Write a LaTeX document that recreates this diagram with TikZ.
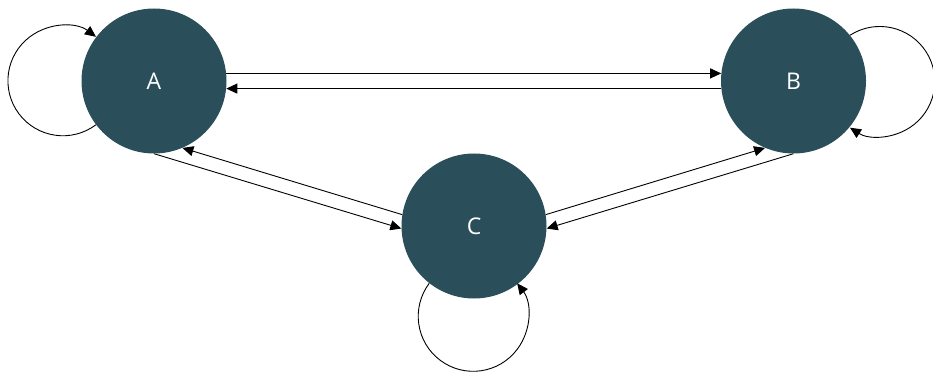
\documentclass[tikz,border=0pt]{standalone}
\usepackage{fontspec}
\setmainfont{Open Sans}
\usetikzlibrary{arrows.meta}
\definecolor{nodefill}{HTML}{2A4F5B}
\begin{document}
\begin{tikzpicture}[x=1pt,y=1pt,
  state/.style={circle,fill=nodefill,draw=none,minimum size=145pt,inner sep=0pt,text=white,font=\fontsize{23}{27}\selectfont},
  conn/.style={line width=0.9pt,-{Triangle[length=11pt,width=10pt]}}]
\useasboundingbox (0,0) rectangle (933,372);
\node[state] (A) at (154,291) {A};
\node[state] (B) at (793.5,291) {B};
\node[state] (C) at (474,146) {C};
% A <-> B
\draw[conn] (A.6) -- (B.174);
\draw[conn] (B.186) -- (A.354);
% A <-> C
\draw[conn] (A.270) -- (C.182);
\draw[conn] (C.171) -- (A.293);
% B <-> C
\draw[conn] (C.9) -- (B.247);
\draw[conn] (B.270) -- (C.358);
% self loops
\draw[conn] (A.217.7) arc[start angle=-53.1, end angle=-306.9, radius=55pt];
\draw[conn] (B.39.9) arc[start angle=122.8, end angle=-122.8, radius=55pt];
\draw[conn] (C.232.3) arc[start angle=143.1, end angle=396.9, radius=55pt];
\end{tikzpicture}
\end{document}
